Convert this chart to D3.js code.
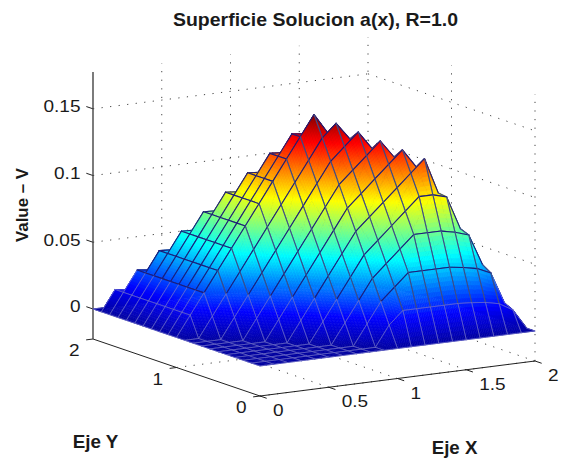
<!DOCTYPE html>
<html>
<head>
<meta charset="utf-8">
<title>Superficie Solucion</title>
<script src="https://cdn.jsdelivr.net/npm/d3@7"></script>
<style>
  html, body { margin: 0; padding: 0; background: white; }
  text { font-family: "Liberation Sans", Arial, sans-serif; fill: #1a1a1a; }
</style>
</head>
<body>
<div id="chart"></div>
<script>
// tick values
var x_ticks = [0, 0.5, 1, 1.5, 2]
var y_ticks = [0, 1, 2]
var z_ticks = [0, 0.05, 0.1, 0.15]
var z_tick_labels = ['0', '0.05', '0.1', '0.15']
var z_limits = [-0.0225, 0.1776]

// grid positions of the surface
var grid_x = [0, 0.1, 0.2, 0.3, 0.4, 0.5, 0.6, 0.7, 0.8, 0.9, 1, 1.1, 1.2, 1.3, 1.4, 1.5, 1.6, 1.7, 1.8, 1.9, 2]
var grid_y = [0, 0.1, 0.2, 0.3, 0.4, 0.5, 0.6, 0.7, 0.8, 0.9, 1, 1.1, 1.2, 1.3, 1.4, 1.5, 1.6, 1.7, 1.8, 1.9, 2]

// surface heights, one row per grid_y value
var surface_z = [
  [0,0,0,0,0,0,0,0,0,0,0,0,0,0,0,0,0,0,0,0,0],
  [0,0,0,0,0,0,0,0,0,0,.0154,.025,.025,.025,.025,.025,.0243,.0232,.0209,.0149,0],
  [0,0,0,0,0,0,0,0,0,.0154,.0308,.0404,.05,.05,.05,.05,.0486,.0464,.0418,.018,0],
  [0,0,0,0,0,0,0,0,.0154,.0308,.0462,.0558,.0654,.075,.075,.075,.0729,.0695,.046,.016,0],
  [0,0,0,0,0,0,0,.0154,.0308,.0462,.0616,.0712,.0808,.0904,.1,.1,.0972,.072,.04,.014,0],
  [0,0,0,0,0,0,.0154,.0308,.0462,.0616,.077,.0866,.0962,.1058,.1154,.125,.098,.064,.036,.012,0],
  [0,0,0,0,0,.0154,.0308,.0462,.0616,.077,.0924,.102,.1116,.1212,.1308,.1167,.092,.06,.032,.011,0],
  [0,0,0,0,.0154,.0308,.0462,.0616,.077,.0924,.1078,.1174,.127,.1366,.1233,.1,.078,.052,.028,.01,0],
  [0,0,0,.0154,.0308,.0462,.0616,.077,.0924,.1078,.1232,.1328,.1424,.129,.108,.086,.066,.044,.024,.008,0],
  [0,0,.0154,.0308,.0462,.0616,.077,.0924,.1078,.1232,.1386,.1482,.1352,.114,.092,.072,.054,.036,.02,.007,0],
  [0,.0154,.0308,.0462,.0616,.077,.0924,.1078,.1232,.1386,.154,.1389,.118,.096,.076,.058,.042,.028,.016,.006,0],
  [0,.0154,.0308,.0462,.0616,.077,.0924,.1078,.1232,.1386,.1375,.118,.098,.08,.062,.046,.034,.022,.013,.005,0],
  [0,.0154,.0308,.0462,.0616,.077,.0924,.1078,.1232,.1225,.103,.084,.068,.054,.042,.032,.023,.015,.009,.003,0],
  [0,.0154,.0308,.0462,.0616,.077,.0924,.1078,.107,.09,.074,.06,.048,.038,.029,.022,.016,.011,.006,.002,0],
  [0,.0154,.0308,.0462,.0616,.077,.0924,.0915,.077,.064,.052,.042,.034,.027,.021,.016,.012,.008,.005,.002,0],
  [0,.0154,.0308,.0462,.0616,.077,.0765,.064,.054,.044,.036,.029,.023,.018,.014,.011,.008,.005,.003,.001,0],
  [0,.0154,.0308,.0462,.0616,.0612,.051,.043,.035,.028,.023,.018,.014,.011,.009,.007,.005,.003,.002,.001,0],
  [0,.0154,.0308,.0462,.0455,.038,.032,.026,.021,.017,.013,.01,.008,.006,.005,.004,.003,.002,.001,.001,0],
  [0,.0154,.0308,.0295,.024,.02,.016,.013,.01,.008,.006,.005,.004,.003,.002,.002,.001,.001,.001,0,0],
  [0,.0154,.0135,.011,.009,.007,.006,.005,.004,.003,.002,.002,.001,.001,.001,0,0,0,0,0,0],
  [0,0,0,0,0,0,0,0,0,0,0,0,0,0,0,0,0,0,0,0,0]
]

var width = 561
var height = 463

var svg = d3
  .select('#chart')
  .append('svg')
  .attr('width', width)
  .attr('height', height)
  .style('display', 'block')

// the view is an oblique projection, each data axis moves the pixel by its own scale
var x_to_px = d3.scaleLinear().domain([0, 2]).range([0, 275])
var x_to_py = d3.scaleLinear().domain([0, 2]).range([0, -35])
var y_to_px = d3.scaleLinear().domain([0, 2]).range([0, -167])
var y_to_py = d3.scaleLinear().domain([0, 2]).range([0, -57])
var z_to_py = d3.scaleLinear().domain(z_limits).range([396, 396 - 267])

function project (x, y, z) {
  return [260 + x_to_px(x) + y_to_px(y), z_to_py(z) + x_to_py(x) + y_to_py(y)]
}

// jet colormap
var z_max = 0.154
var jet = d3
  .scaleLinear()
  .domain([0, 0.125, 0.375, 0.625, 0.875, 1].map(d => d * z_max))
  .range(['#0000a0', '#0000ff', '#00ffff', '#ffff00', '#ff0000', '#800000'])
  .clamp(true)

// dotted walls and floor
var grid_lines = []
z_ticks.forEach(z => {
  grid_lines.push([[0, 2, z], [2, 2, z]])
  grid_lines.push([[2, 2, z], [2, 0, z]])
})
x_ticks.slice(1).forEach(x => {
  grid_lines.push([[x, 2, z_limits[0]], [x, 2, z_limits[1]]])
  grid_lines.push([[x, 0, z_limits[0]], [x, 2, z_limits[0]]])
})
y_ticks.slice(0, 2).forEach(y => {
  grid_lines.push([[2, y, z_limits[0]], [2, y, z_limits[1]]])
  grid_lines.push([[0, y, z_limits[0]], [2, y, z_limits[0]]])
})

svg
  .append('g')
  .selectAll('line')
  .data(grid_lines)
  .enter()
  .append('line')
  .attr('x1', d => project(...d[0])[0])
  .attr('y1', d => project(...d[0])[1])
  .attr('x2', d => project(...d[1])[0])
  .attr('y2', d => project(...d[1])[1])
  .attr('stroke', '#444')
  .attr('stroke-width', 1)
  .attr('stroke-dasharray', '1.2,7.4')

// axes
var axis_lines = [
  [[0, 0, z_limits[0]], [0, 2, z_limits[0]]],
  [[0, 0, z_limits[0]], [2, 0, z_limits[0]]]
]
var tick_lines = []
x_ticks.forEach(x => tick_lines.push([[x, 0, z_limits[0]], [x, -0.08, z_limits[0]]]))
y_ticks.forEach(y => tick_lines.push([[0, y, z_limits[0]], [-0.05, y, z_limits[0]]]))
z_ticks.forEach(z => tick_lines.push([[0, 2, z], [0, 2.08, z]]))

svg
  .append('g')
  .selectAll('line')
  .data(axis_lines.concat(tick_lines))
  .enter()
  .append('line')
  .attr('x1', d => project(...d[0])[0])
  .attr('y1', d => project(...d[0])[1])
  .attr('x2', d => project(...d[1])[0])
  .attr('y2', d => project(...d[1])[1])
  .attr('stroke', '#222')
  .attr('stroke-width', 1)

svg
  .append('line')
  .attr('x1', project(0, 2, z_limits[0])[0])
  .attr('y1', project(0, 2, z_limits[0])[1])
  .attr('x2', project(0, 2, z_limits[1])[0])
  .attr('y2', project(0, 2, z_limits[1])[1])
  .attr('stroke', '#444')
  .attr('stroke-width', 1.4)

// surface, painted from the back corner to the front
var surface = svg.append('g')

// each cell is two flat triangles split along its u = v diagonal
function blend (zs, u, v) {
  if (u >= v) return zs[0] + u * (zs[1] - zs[0]) + v * (zs[3] - zs[1])
  return zs[0] + v * (zs[2] - zs[0]) + u * (zs[3] - zs[2])
}

for (var i = grid_x.length - 2; i >= 0; i--) {
  for (var j = grid_y.length - 2; j >= 0; j--) {
    var zs = [surface_z[j][i], surface_z[j][i + 1], surface_z[j + 1][i], surface_z[j + 1][i + 1]]
    var n = d3.max(zs) - d3.min(zs) > 0.004 ? 8 : 2
    var pieces = []
    for (var a = n - 1; a >= 0; a--) {
      for (var b = n - 1; b >= 0; b--) {
        var corners = [[a, b], [a + 1, b], [a + 1, b + 1], [a, b + 1]].map(c => {
          var u = c[0] / n
          var v = c[1] / n
          return project(
            grid_x[i] + u * (grid_x[i + 1] - grid_x[i]),
            grid_y[j] + v * (grid_y[j + 1] - grid_y[j]),
            blend(zs, u, v)
          )
        })
        pieces.push({ corners: corners, z: blend(zs, (a + 0.5) / n, (b + 0.5) / n) })
      }
    }

    var cell = surface.append('g')
    cell
      .selectAll('polygon')
      .data(pieces)
      .enter()
      .append('polygon')
      .attr('points', d => d.corners.join(' '))
      .attr('fill', d => jet(d.z))
      .attr('stroke', d => jet(d.z))
      .attr('stroke-width', 0.6)

    // edges along x are dark, the ones along y are greyer, low ones show as lilac
    var back = grid_x[i] + grid_y[j] > 1.95
    var p00 = project(grid_x[i], grid_y[j], zs[0])
    var p10 = project(grid_x[i + 1], grid_y[j], zs[1])
    var p01 = project(grid_x[i], grid_y[j + 1], zs[2])
    var p11 = project(grid_x[i + 1], grid_y[j + 1], zs[3])
    var dark_y = back || grid_y[j] >= 0.99
    var edges = [
      { a: p00, b: p10, z: (zs[0] + zs[1]) / 2, c: '#1c1c78', w: 1.05 },
      { a: p01, b: p11, z: (zs[2] + zs[3]) / 2, c: '#1c1c78', w: 1.05 },
      { a: p00, b: p01, z: (zs[0] + zs[2]) / 2, c: dark_y ? '#1c1c78' : '#3c4c88', w: 1.1 },
      { a: p10, b: p11, z: (zs[1] + zs[3]) / 2, c: dark_y ? '#1c1c78' : '#3c4c88', w: 1.1 }
    ]
    cell
      .selectAll('line')
      .data(edges)
      .enter()
      .append('line')
      .attr('x1', d => d.a[0])
      .attr('y1', d => d.a[1])
      .attr('x2', d => d.b[0])
      .attr('y2', d => d.b[1])
      .attr('stroke', d => (d.z < 0.03 && !back ? '#7474c8' : d.c))
      .attr('stroke-width', d => (d.z < 0.03 && !back ? 0.7 : d.w))
      .attr('stroke-linecap', 'round')
  }
}

// the original text is a little stretched sideways
function stretch (selection, factor) {
  selection
    .attr('textLength', function () { return this.getComputedTextLength() * factor })
    .attr('lengthAdjust', 'spacingAndGlyphs')
}

// tick labels
var labels = svg.append('g').style('font-size', '16.4px')

z_ticks.forEach((z, k) => {
  labels
    .append('text')
    .attr('x', project(0, 2, z)[0] - 12.5)
    .attr('y', project(0, 2, z)[1] + 3.5)
    .attr('text-anchor', 'end')
    .text(z_tick_labels[k])
    .call(stretch, 1.16)
})

x_ticks.forEach(x => {
  labels
    .append('text')
    .attr('x', project(x, 0, z_limits[0])[0] + 13)
    .attr('y', project(x, 0, z_limits[0])[1] + 20)
    .text(x)
    .call(stretch, 1.16)
})

y_ticks.forEach(y => {
  labels
    .append('text')
    .attr('x', project(0, y, z_limits[0])[0] - 13.5)
    .attr('y', project(0, y, z_limits[0])[1] + 17.3)
    .attr('text-anchor', 'end')
    .text(y)
    .call(stretch, 1.16)
})

// title and axis names
svg
  .append('text')
  .attr('x', 173)
  .attr('y', 25.5)
  .attr('textLength', 285)
  .attr('lengthAdjust', 'spacingAndGlyphs')
  .style('font-size', '18.5px')
  .style('font-weight', 'bold')
  .text('Superficie Solucion a(x), R=1.0')

svg
  .append('text')
  .attr('transform', 'translate(28.3,205) rotate(-90)')
  .attr('text-anchor', 'middle')
  .attr('textLength', 74)
  .attr('lengthAdjust', 'spacingAndGlyphs')
  .style('font-size', '16.6px')
  .style('font-weight', 'bold')
  .text('Value \u2013 V')

svg
  .append('text')
  .attr('x', 72.7)
  .attr('y', 448.3)
  .attr('textLength', 45.7)
  .attr('lengthAdjust', 'spacingAndGlyphs')
  .style('font-size', '17.5px')
  .style('font-weight', 'bold')
  .text('Eje Y')

svg
  .append('text')
  .attr('x', 431.7)
  .attr('y', 454.3)
  .attr('textLength', 45.7)
  .attr('lengthAdjust', 'spacingAndGlyphs')
  .style('font-size', '17.5px')
  .style('font-weight', 'bold')
  .text('Eje X')
</script>
</body>
</html>
